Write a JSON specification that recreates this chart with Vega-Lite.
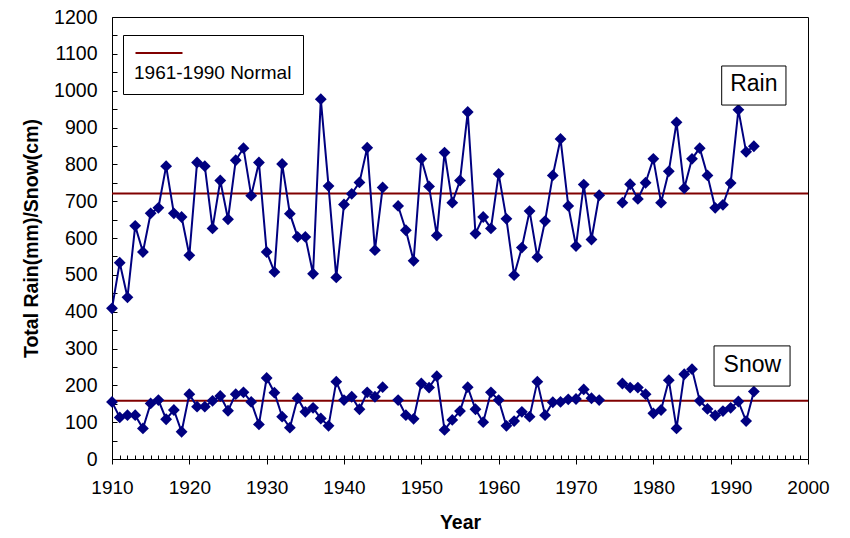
{
  "$schema": "https://vega.github.io/schema/vega-lite/v6.json",
  "width": 696,
  "height": 442,
  "autosize": {"type": "none"},
  "padding": {"left": 112, "top": 17, "right": 42, "bottom": 79},
  "background": "white",
  "config": {
    "font": "Liberation Sans",
    "view": {"stroke": "black", "strokeWidth": 1},
    "axis": {"grid": false, "domain": false, "tickColor": "black", "labelColor": "black", "titleColor": "black", "labelFont": "Liberation Sans", "titleFont": "Liberation Sans"}
  },
  "resolve": {"axis": {"x": "independent", "y": "independent"}},
  "datasets": {
    "precip": [
      {"year": 1910, "Rain": 409, "Snow": 155},
      {"year": 1911, "Rain": 533, "Snow": 113},
      {"year": 1912, "Rain": 439, "Snow": 119},
      {"year": 1913, "Rain": 633, "Snow": 119},
      {"year": 1914, "Rain": 562, "Snow": 83},
      {"year": 1915, "Rain": 667, "Snow": 151},
      {"year": 1916, "Rain": 682, "Snow": 160},
      {"year": 1917, "Rain": 795, "Snow": 108},
      {"year": 1918, "Rain": 667, "Snow": 133},
      {"year": 1919, "Rain": 657, "Snow": 74},
      {"year": 1920, "Rain": 553, "Snow": 176},
      {"year": 1921, "Rain": 805, "Snow": 142},
      {"year": 1922, "Rain": 795, "Snow": 142},
      {"year": 1923, "Rain": 626, "Snow": 158},
      {"year": 1924, "Rain": 756, "Snow": 171},
      {"year": 1925, "Rain": 651, "Snow": 131},
      {"year": 1926, "Rain": 811, "Snow": 176},
      {"year": 1927, "Rain": 844, "Snow": 181},
      {"year": 1928, "Rain": 715, "Snow": 155},
      {"year": 1929, "Rain": 805, "Snow": 94},
      {"year": 1930, "Rain": 562, "Snow": 220},
      {"year": 1931, "Rain": 508, "Snow": 180},
      {"year": 1932, "Rain": 801, "Snow": 115},
      {"year": 1933, "Rain": 666, "Snow": 85},
      {"year": 1934, "Rain": 603, "Snow": 165},
      {"year": 1935, "Rain": 603, "Snow": 128},
      {"year": 1936, "Rain": 503, "Snow": 139},
      {"year": 1937, "Rain": 977, "Snow": 110},
      {"year": 1938, "Rain": 741, "Snow": 90},
      {"year": 1939, "Rain": 493, "Snow": 210},
      {"year": 1940, "Rain": 691, "Snow": 160},
      {"year": 1941, "Rain": 720, "Snow": 169},
      {"year": 1942, "Rain": 751, "Snow": 135},
      {"year": 1943, "Rain": 845, "Snow": 181},
      {"year": 1944, "Rain": 567, "Snow": 169},
      {"year": 1945, "Rain": 737, "Snow": 195},
      {"year": 1946, "Rain": null, "Snow": null},
      {"year": 1947, "Rain": 687, "Snow": 160},
      {"year": 1948, "Rain": 621, "Snow": 119},
      {"year": 1949, "Rain": 538, "Snow": 109},
      {"year": 1950, "Rain": 815, "Snow": 205},
      {"year": 1951, "Rain": 740, "Snow": 194},
      {"year": 1952, "Rain": 607, "Snow": 225},
      {"year": 1953, "Rain": 832, "Snow": 79},
      {"year": 1954, "Rain": 696, "Snow": 106},
      {"year": 1955, "Rain": 756, "Snow": 130},
      {"year": 1956, "Rain": 942, "Snow": 195},
      {"year": 1957, "Rain": 612, "Snow": 135},
      {"year": 1958, "Rain": 657, "Snow": 100},
      {"year": 1959, "Rain": 626, "Snow": 181},
      {"year": 1960, "Rain": 774, "Snow": 160},
      {"year": 1961, "Rain": 652, "Snow": 90},
      {"year": 1962, "Rain": 499, "Snow": 103},
      {"year": 1963, "Rain": 574, "Snow": 128},
      {"year": 1964, "Rain": 673, "Snow": 115},
      {"year": 1965, "Rain": 548, "Snow": 210},
      {"year": 1966, "Rain": 646, "Snow": 119},
      {"year": 1967, "Rain": 770, "Snow": 154},
      {"year": 1968, "Rain": 869, "Snow": 155},
      {"year": 1969, "Rain": 687, "Snow": 162},
      {"year": 1970, "Rain": 578, "Snow": 163},
      {"year": 1971, "Rain": 745, "Snow": 189},
      {"year": 1972, "Rain": 596, "Snow": 165},
      {"year": 1973, "Rain": 716, "Snow": 160},
      {"year": 1974, "Rain": null, "Snow": null},
      {"year": 1975, "Rain": null, "Snow": null},
      {"year": 1976, "Rain": 696, "Snow": 205},
      {"year": 1977, "Rain": 746, "Snow": 194},
      {"year": 1978, "Rain": 706, "Snow": 194},
      {"year": 1979, "Rain": 750, "Snow": 176},
      {"year": 1980, "Rain": 815, "Snow": 124},
      {"year": 1981, "Rain": 696, "Snow": 133},
      {"year": 1982, "Rain": 781, "Snow": 214},
      {"year": 1983, "Rain": 914, "Snow": 83},
      {"year": 1984, "Rain": 735, "Snow": 230},
      {"year": 1985, "Rain": 815, "Snow": 244},
      {"year": 1986, "Rain": 844, "Snow": 158},
      {"year": 1987, "Rain": 770, "Snow": 136},
      {"year": 1988, "Rain": 682, "Snow": 118},
      {"year": 1989, "Rain": 690, "Snow": 130},
      {"year": 1990, "Rain": 749, "Snow": 139},
      {"year": 1991, "Rain": 948, "Snow": 156},
      {"year": 1992, "Rain": 834, "Snow": 103},
      {"year": 1993, "Rain": 849, "Snow": 183}
    ],
    "labels": [
      {"label": "Rain", "x1": 1988.84, "x2": 1997.15, "y1": 961, "y2": 1067, "xc": 1993.0, "yc": 1017},
      {"label": "Snow", "x1": 1987.85, "x2": 1997.68, "y1": 198, "y2": 307, "xc": 1992.8, "yc": 256}
    ]
  },
  "layer": [
    {
      "data": {"values": [
        {"label": "1961-1990 Normal", "value": 721},
        {"label": "1961-1990 Normal", "value": 158}
      ]},
      "mark": {"type": "rule", "strokeWidth": 2},
      "encoding": {
        "y": {
          "field": "value", "type": "quantitative",
          "scale": {"domain": [0, 1200], "nice": false},
          "axis": {"orient": "left", "values": [0,50,100,150,200,250,300,350,400,450,500,550,600,650,700,750,800,850,900,950,1000,1050,1100,1150,1200], "offset": -5, "tickSize": 5, "labels": false, "title": null}
        },
        "color": {
          "field": "label", "type": "nominal",
          "scale": {"range": ["#800000"]},
          "legend": {
            "orient": "none", "legendX": 11, "legendY": 18,
            "title": "1961-1990 Normal", "titleOrient": "bottom", "titleAnchor": "start",
            "titleFontSize": 19, "titleFontWeight": "normal", "titleColor": "black", "titleFont": "Liberation Sans", "titlePadding": 7, "titleLimit": 400,
            "labelExpr": "''", "labelFontSize": 1, "labelOffset": 0,
            "symbolType": "M-4,0L4,0", "symbolSize": 138, "symbolStrokeWidth": 2, "symbolOffset": 18,
            "padding": 11, "strokeColor": "black", "fillColor": "white"
          }
        }
      }
    },
    {
      "data": {"name": "precip"},
      "transform": [{"fold": ["Rain", "Snow"], "as": ["series", "value"]}],
      "mark": {"type": "line", "color": "#000080", "strokeWidth": 2, "invalid": "break-paths-show-domains"},
      "encoding": {
        "x": {
          "field": "year", "type": "quantitative",
          "scale": {"domain": [1910, 2000], "nice": false, "zero": false},
          "axis": {"orient": "bottom", "values": [1910,1911,1912,1913,1914,1915,1916,1917,1918,1919,1920,1921,1922,1923,1924,1925,1926,1927,1928,1929,1930,1931,1932,1933,1934,1935,1936,1937,1938,1939,1940,1941,1942,1943,1944,1945,1946,1947,1948,1949,1950,1951,1952,1953,1954,1955,1956,1957,1958,1959,1960,1961,1962,1963,1964,1965,1966,1967,1968,1969,1970,1971,1972,1973,1974,1975,1976,1977,1978,1979,1980,1981,1982,1983,1984,1985,1986,1987,1988,1989,1990,1991,1992,1993,1994,1995,1996,1997,1998,1999,2000], "offset": -4, "tickSize": 4, "labels": false, "title": null}
        },
        "y": {
          "field": "value", "type": "quantitative",
          "axis": {"orient": "left", "values": [0,100,200,300,400,500,600,700,800,900,1000,1100,1200], "format": "d", "ticks": false, "tickSize": 0, "labelPadding": 15, "labelFontSize": 19.5, "labelFlush": false, "title": "Total Rain(mm)/Snow(cm)", "titleFontSize": 19.5, "titleFontWeight": "bold", "titlePadding": 12}
        },
        "detail": {"field": "series"}
      }
    },
    {
      "data": {"name": "precip"},
      "transform": [{"fold": ["Rain", "Snow"], "as": ["series", "value"]}],
      "mark": {"type": "point", "shape": "diamond", "filled": true, "color": "#000080", "size": 140, "opacity": 1},
      "encoding": {
        "x": {
          "field": "year", "type": "quantitative",
          "axis": {"orient": "bottom", "values": [1910,1920,1930,1940,1950,1960,1970,1980,1990,2000], "format": "d", "tickSize": 5, "labelPadding": 14, "labelFontSize": 19, "labelFlush": false, "title": "Year", "titleFontSize": 19.5, "titleFontWeight": "bold", "titlePadding": 16}
        },
        "y": {"field": "value", "type": "quantitative", "axis": null},
        "detail": {"field": "series"}
      }
    },
    {
      "data": {"name": "labels"},
      "mark": {"type": "rect", "fill": "white", "stroke": "black", "strokeWidth": 1},
      "encoding": {
        "x": {"field": "x1", "type": "quantitative", "axis": null},
        "x2": {"field": "x2"},
        "y": {"field": "y1", "type": "quantitative", "axis": null},
        "y2": {"field": "y2"}
      }
    },
    {
      "data": {"name": "labels"},
      "mark": {"type": "text", "fontSize": 23, "font": "Liberation Sans", "color": "black", "align": "center", "baseline": "middle"},
      "encoding": {
        "x": {"field": "xc", "type": "quantitative", "axis": null},
        "y": {"field": "yc", "type": "quantitative", "axis": null},
        "text": {"field": "label"}
      }
    }
  ]
}
